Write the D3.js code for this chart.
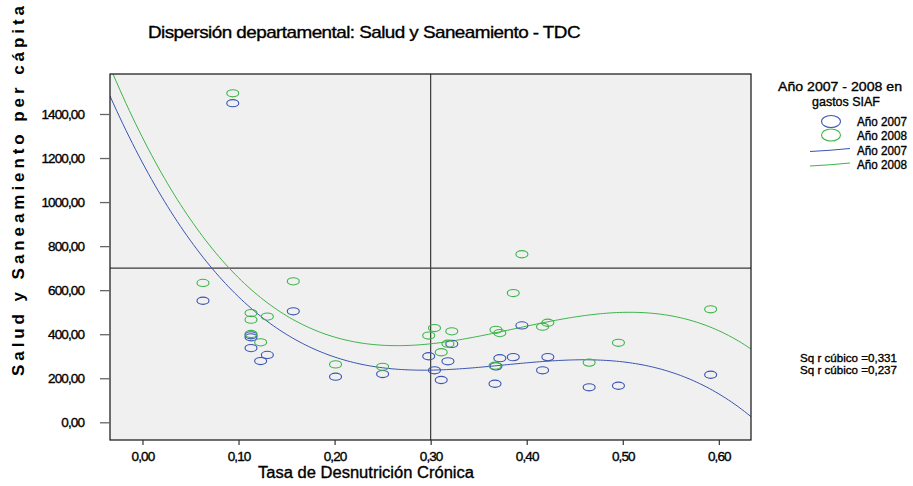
<!DOCTYPE html>
<html><head><meta charset="utf-8">
<script src="https://cdn.jsdelivr.net/npm/d3@7"></script>
<style>
body{margin:0;background:#fff;}
svg{display:block;}
text{font-family:"Liberation Sans",Arial,sans-serif;fill:#000;}
.heavy{stroke:#000;stroke-width:0.35px;}
</style>
</head><body>
<svg id="chart" width="913" height="486"></svg>
<script>
// ---- data ----
const tdc       = [0.063,0.094,0.113,0.113,0.113,0.123,0.130,0.157,0.201,0.250,0.298,0.304,0.311,0.318,0.322,0.368,0.372,0.367,0.386,0.395,0.4165,0.422,0.465,0.4955,0.5915];
const gasto2007 = [552,1449,395,386,337,278,306,504,207,219,300,236,192,277,356,254,291,175,296,440,236,296,159,166,216];
const gasto2008 = [633,1494,496,466,401,363,480,640,263,252,394,428,318,357,413,420,405,257,587,763,434,452,271,361,513];
const seriesNames = ["Año 2007","Año 2008"];
const seriesColors = ["#3b54b2","#3cb548"];
const rSquaredLabels = ["Sq r cúbico =0,331","Sq r cúbico =0,237"];
const yTickValues = [0,200,400,600,800,1000,1200,1400];
const xTickValues = [0,0.1,0.2,0.3,0.4,0.5,0.6];
const refLineX = 0.30, refLineY = 700;
const titleText = "Dispersión departamental: Salud y Saneamiento - TDC";
const xTitle = "Tasa de Desnutrición Crónica";
const yTitle = "Salud y Saneamiento per cápita";
const legendTitle = ["Año 2007 - 2008 en","gastos SIAF"];

// ---- layout ----
const svg = d3.select("#chart");
const L = 110, R = 751, T = 74, B = 440;
const x = d3.scaleLinear().domain([-0.0338, 0.6335]).range([L, R]);
const y = d3.scaleLinear().domain([-80.4, 1581.6]).range([B, T]);

svg.append("defs").append("clipPath").attr("id","plotclip")
  .append("rect").attr("x",L).attr("y",T).attr("width",R-L).attr("height",B-T);

// plot background
svg.append("rect").attr("x",L).attr("y",T).attr("width",R-L).attr("height",B-T)
  .attr("fill","#f0f0f0");

// reference lines
const plot = svg.append("g").attr("clip-path","url(#plotclip)");
plot.append("line").attr("x1",x(refLineX)).attr("x2",x(refLineX)).attr("y1",T).attr("y2",B)
  .attr("stroke","#3a3a3a").attr("stroke-width",1.2);
plot.append("line").attr("x1",L).attr("x2",R).attr("y1",y(refLineY)).attr("y2",y(refLineY))
  .attr("stroke","#3a3a3a").attr("stroke-width",1.2);

// cubic least-squares fit
function cubicFit(xs, ys){
  const n = 4, A = Array.from({length:n},()=>Array(n+1).fill(0));
  xs.forEach((xv,i)=>{
    const p=[1,xv,xv*xv,xv*xv*xv];
    for(let r=0;r<n;r++){ for(let c=0;c<n;c++) A[r][c]+=p[r]*p[c]; A[r][n]+=p[r]*ys[i]; }
  });
  for(let i=0;i<n;i++){
    let m=i; for(let k=i+1;k<n;k++) if(Math.abs(A[k][i])>Math.abs(A[m][i])) m=k;
    [A[i],A[m]]=[A[m],A[i]];
    for(let k=0;k<n;k++){ if(k===i) continue; const f=A[k][i]/A[i][i]; for(let c=i;c<=n;c++) A[k][c]-=f*A[i][c]; }
  }
  return A.map((row,i)=>row[n]/row[i]);
}
const seriesVals = [gasto2007, gasto2008];
const dom = x.domain();
const samples = d3.range(0, 201).map(i => dom[0] + (dom[1]-dom[0])*i/200);
seriesVals.forEach((vals, s) => {
  const c = cubicFit(tdc, vals);
  const pts = samples.map(t => [t, c[0]+c[1]*t+c[2]*t*t+c[3]*t*t*t]);
  plot.append("path").datum(pts)
    .attr("d", d3.line().x(d=>x(d[0])).y(d=>y(d[1])))
    .attr("fill","none").attr("stroke",seriesColors[s]).attr("stroke-width",1);
});

// points
seriesVals.forEach((vals, s) => {
  plot.append("g").selectAll("ellipse").data(vals).join("ellipse")
    .attr("cx",(d,i)=>x(tdc[i])).attr("cy",d=>y(d))
    .attr("rx",6).attr("ry",3.6)
    .attr("fill","none").attr("stroke",seriesColors[s]).attr("stroke-width",1.1);
});

// frame
svg.append("rect").attr("x",L).attr("y",T).attr("width",R-L).attr("height",B-T)
  .attr("fill","none").attr("stroke","#111").attr("stroke-width",1.2);

const fmt = d => d3.format(".2f")(d).replace(".",",");
// y axis
const yAxis = svg.append("g").attr("transform",`translate(${L},0)`)
  .call(d3.axisLeft(y).tickValues(yTickValues).tickSize(10).tickPadding(16).tickFormat(fmt));
yAxis.select(".domain").remove();
yAxis.selectAll(".tick line").attr("stroke","#666").attr("stroke-width",1.3);
yAxis.selectAll(".tick text").attr("font-size",13.5).attr("font-family","Liberation Sans, Arial, sans-serif")
  .attr("letter-spacing","-0.9").attr("fill","#000").attr("class","heavy");

// x axis
const xAxis = svg.append("g").attr("transform",`translate(0,${B})`)
  .call(d3.axisBottom(x).tickValues(xTickValues).tickSize(5).tickPadding(6).tickFormat(fmt));
xAxis.select(".domain").remove();
xAxis.selectAll(".tick line").attr("stroke","#333").attr("stroke-width",1.2);
xAxis.selectAll(".tick text").attr("font-size",13.5).attr("font-family","Liberation Sans, Arial, sans-serif")
  .attr("letter-spacing","-0.9").attr("fill","#000").attr("class","heavy");

// titles
svg.append("text").attr("x",148).attr("y",38).attr("font-size",17).attr("class","heavy")
  .attr("textLength",432).attr("lengthAdjust","spacingAndGlyphs").attr("letter-spacing","-0.5")
  .text(titleText);
svg.append("text").attr("x",258).attr("y",478).attr("font-size",16).attr("class","heavy")
  .attr("textLength",216).attr("lengthAdjust","spacingAndGlyphs")
  .text(xTitle);
svg.append("text").attr("transform","translate(24,191) rotate(-90)")
  .attr("text-anchor","middle").attr("font-size",17).attr("font-weight","bold")
  .attr("textLength",370).attr("lengthAdjust","spacing")
  .text(yTitle);

// legend
svg.append("text").attr("x",778).attr("y",91).attr("font-size",13).attr("class","heavy")
  .attr("textLength",124).attr("lengthAdjust","spacingAndGlyphs").text(legendTitle[0]);
svg.append("text").attr("x",812).attr("y",105.5).attr("font-size",13).attr("class","heavy")
  .attr("textLength",68).attr("lengthAdjust","spacingAndGlyphs").text(legendTitle[1]);
const legY = [121.5, 135, 150, 164.5];
seriesNames.forEach((nm, s) => {
  svg.append("ellipse").attr("cx",831).attr("cy",legY[s]).attr("rx",9.5).attr("ry",6)
    .attr("fill","none").attr("stroke",seriesColors[s]).attr("stroke-width",1.1);
  const ly = legY[s+2];
  svg.append("path").attr("d",`M810,${ly+1.5} Q830,${ly+0.5} 850,${ly-1.5}`)
    .attr("fill","none").attr("stroke",seriesColors[s]).attr("stroke-width",1);
});
[0,1,0,1].forEach((s,i) => {
  svg.append("text").attr("x",857).attr("y",legY[i]+4.5).attr("font-size",12).attr("class","heavy")
    .attr("textLength",50).attr("lengthAdjust","spacingAndGlyphs").text(seriesNames[s]);
});

// R squared
rSquaredLabels.forEach((t,i) => {
  svg.append("text").attr("x",800).attr("y",362+i*12).attr("font-size",11.5).attr("class","heavy")
    .attr("textLength",97).attr("lengthAdjust","spacingAndGlyphs").text(t);
});
</script>
</body></html>
